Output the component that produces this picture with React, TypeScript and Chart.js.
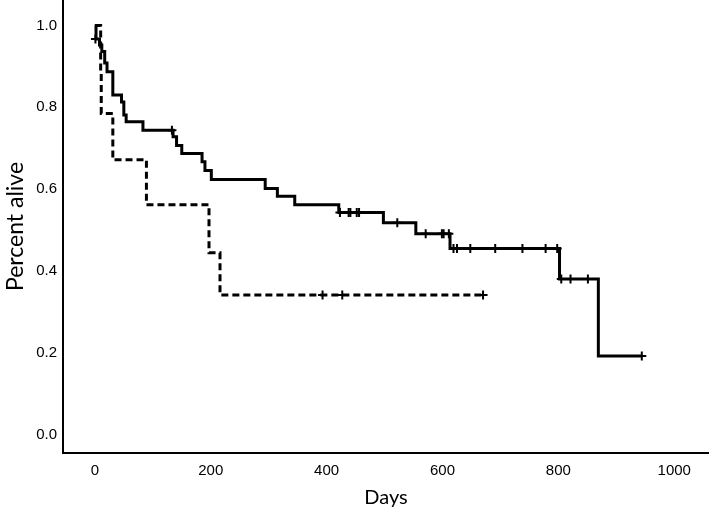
import React, { useEffect, useRef } from "react";
import { Chart, registerables } from "chart.js";

Chart.register(...registerables);

// Group 1 (solid) Kaplan–Meier steps
const solidDays = [0, 2, 8, 12, 17, 21, 31, 46, 50, 54, 83, 135, 141, 150, 185, 190, 201, 294, 315, 345, 421, 498, 554, 613, 802, 869, 944];
const solidSurvival = [1.0, 0.967, 0.952, 0.936, 0.908, 0.887, 0.83, 0.813, 0.781, 0.765, 0.744, 0.728, 0.707, 0.687, 0.667, 0.646, 0.624, 0.602, 0.583, 0.562, 0.543, 0.518, 0.491, 0.455, 0.381, 0.193, 0.193];
// Group 1 censored observations
const solidCensorDays = [1, 133, 423, 438, 441, 452, 456, 522, 571, 599, 602, 611, 619, 625, 648, 691, 738, 778, 798, 805, 821, 851, 944];
const solidCensorSurvival = [0.967, 0.744, 0.543, 0.543, 0.543, 0.543, 0.543, 0.518, 0.491, 0.491, 0.491, 0.491, 0.455, 0.455, 0.455, 0.455, 0.455, 0.455, 0.455, 0.381, 0.381, 0.381, 0.193];

// Group 2 (dashed)
const dashedDays = [0, 10, 11, 31, 89, 197, 216, 670];
const dashedSurvival = [1.0, 0.889, 0.785, 0.672, 0.562, 0.445, 0.342, 0.342];
const dashedCensorDays = [393, 427, 670];
const dashedCensorSurvival = [0.342, 0.342, 0.342];

const xTicks = [0, 200, 400, 600, 800, 1000];
const yTicks = [0.0, 0.2, 0.4, 0.6, 0.8, 1.0];
const xTitle = "Days";
const yTitle = "Percent alive";

const toPoints = (xs: number[], ys: number[]) => xs.map((x, i) => ({ x, y: ys[i] }));

export default function App() {
  const ref = useRef<HTMLCanvasElement>(null);

  useEffect(() => {
    if (!ref.current) return;
    const tickFont = { family: "'Liberation Sans', Arial, sans-serif", size: 15 };
    const censorStyle = {
      showLine: false,
      pointStyle: "cross",
      pointRadius: 4.5,
      pointBorderWidth: 2,
      pointBorderColor: "#000",
      pointBackgroundColor: "#000",
    };
    const chart = new Chart(ref.current, {
      type: "line",
      data: {
        datasets: [
          {
            data: toPoints(solidDays, solidSurvival),
            stepped: "before",
            borderColor: "#000",
            borderWidth: 3,
            borderJoinStyle: "miter",
            borderCapStyle: "butt",
            pointRadius: 0,
            fill: false,
          },
          {
            data: toPoints(dashedDays, dashedSurvival),
            stepped: "before",
            borderColor: "#000",
            borderWidth: 3,
            borderDash: [7, 4],
            borderJoinStyle: "miter",
            borderCapStyle: "butt",
            pointRadius: 0,
            fill: false,
          },
          { data: toPoints(solidCensorDays, solidCensorSurvival), ...censorStyle },
          { data: toPoints(dashedCensorDays, dashedCensorSurvival), ...censorStyle },
        ],
      } as any,
      options: {
        animation: false,
        responsive: false,
        maintainAspectRatio: false,
        layout: { padding: 0, autoPadding: false },
        plugins: { legend: { display: false }, tooltip: { enabled: false } },
        scales: {
          x: {
            type: "linear",
            min: -55,
            max: 1060,
            grid: { display: false, drawTicks: false },
            border: { display: true, color: "#000", width: 2 },
            ticks: {
              font: tickFont,
              color: "#000",
              padding: 9,
              maxRotation: 0,
              callback: (v: any) => String(v),
            },
            title: {
              display: true,
              text: xTitle,
              font: { family: "Lato, 'Open Sans', sans-serif", size: 20 },
              color: "#000",
              padding: { top: 0, bottom: 8 },
            },
            afterBuildTicks: (s: any) => {
              s.ticks = xTicks.map((v) => ({ value: v }));
            },
            afterFit: (s: any) => {
              s.height = 65;
              s.paddingLeft = 0;
              s.paddingRight = 0;
            },
          },
          y: {
            type: "linear",
            min: -0.044,
            max: 1.062,
            grid: { display: false, drawTicks: false },
            border: { display: true, color: "#000", width: 2 },
            ticks: {
              font: tickFont,
              color: "#000",
              padding: 6,
              callback: (v: any) => Number(v).toFixed(1),
            },
            title: {
              display: true,
              text: yTitle,
              font: { family: "Lato, 'Open Sans', sans-serif", size: 23 },
              color: "#000",
              padding: { top: 2, bottom: 0 },
            },
            afterBuildTicks: (s: any) => {
              s.ticks = yTicks.map((v) => ({ value: v }));
            },
            afterFit: (s: any) => {
              s.width = 63;
              s.paddingTop = 0;
              s.paddingBottom = 0;
            },
          },
        },
      } as any,
    });
    return () => chart.destroy();
  }, []);

  return (
    <div style={{ position: "absolute", left: 0, top: 0, width: 709, height: 518, background: "#fff" }}>
      <canvas ref={ref} width={709} height={518} style={{ display: "block" }} />
    </div>
  );
}
